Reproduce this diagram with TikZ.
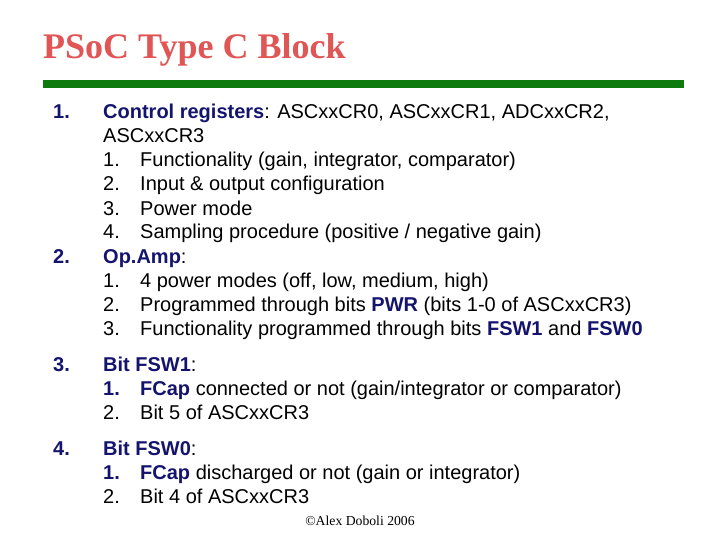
\documentclass[tikz,border=0pt]{standalone}
\usepackage{fontspec}
\setmainfont{Liberation Sans}
\newfontfamily\seriff{Liberation Serif}
\definecolor{navy}{HTML}{14146E}
\definecolor{ttl}{HTML}{E05555}
\definecolor{bar}{HTML}{0C7A0C}
\begin{document}
\begin{tikzpicture}[x=1pt,y=-1pt,
 t/.style={anchor=base west,inner sep=0pt,font=\fontsize{20}{22}\selectfont},
 nb/.style={t,text=navy,font=\fontsize{20}{22}\selectfont\bfseries}]
\useasboundingbox (0,0) rectangle (720,540);
\node[anchor=base west,inner sep=0pt,text=ttl,font=\seriff\fontsize{36}{38}\selectfont\bfseries] (title) at (43,59) {PSoC Type C Block};
\fill[bar] (43,80) rectangle (684,88);
\newcommand\B[1]{\textcolor{navy}{\bfseries #1}}
\node[nb] (n1) at (53,119) {1.};
\node[t] (l1) at (103,119) {\B{Control registers}: ASCxxCR0, ASCxxCR1, ADCxxCR2,};
\node[t] (l1b) at (103,143) {ASCxxCR3};
\node[t] (a1) at (103,167) {1.};\node[t] (a1t) at (140,167) {Functionality (gain, integrator, comparator)};
\node[t] (a2) at (103,191) {2.};\node[t] (a2t) at (140,191) {Input \& output configuration};
\node[t] (a3) at (103,215) {3.};\node[t] (a3t) at (140,215) {Power mode};
\node[t] (a4) at (103,239) {4.};\node[t] (a4t) at (140,239) {Sampling procedure (positive / negative gain)};
\node[nb] (n2) at (53,263) {2.};
\node[t] (l2) at (103,263) {\B{Op.Amp}:};
\node[t] (b1) at (103,287) {1.};\node[t] (b1t) at (140,287) {4 power modes (off, low, medium, high)};
\node[t] (b2) at (103,311) {2.};\node[t] (b2t) at (140,311) {Programmed through bits \B{PWR} (bits 1-0 of ASCxxCR3)};
\node[t] (b3) at (103,335) {3.};\node[t] (b3t) at (140,335) {Functionality programmed through bits \B{FSW1} and \B{FSW0}};
\node[nb] (n3) at (53,371) {3.};
\node[t] (l3) at (103,371) {\B{Bit FSW1}:};
\node[nb] (c1) at (103,395) {1.};\node[t] (c1t) at (140,395) {\B{FCap} connected or not (gain/integrator or comparator)};
\node[t] (c2) at (103,419) {2.};\node[t] (c2t) at (140,419) {Bit 5 of ASCxxCR3};
\node[nb] (n4) at (53,455) {4.};
\node[t] (l4) at (103,455) {\B{Bit FSW0}:};
\node[nb] (d1) at (103,479) {1.};\node[t] (d1t) at (140,479) {\B{FCap} discharged or not (gain or integrator)};
\node[t] (d2) at (103,503) {2.};\node[t] (d2t) at (140,503) {Bit 4 of ASCxxCR3};
\node[inner sep=0pt,font=\seriff\fontsize{13.7}{15}\selectfont] (copy) at (360,521) {©Alex Doboli 2006};
\end{tikzpicture}
\end{document}
